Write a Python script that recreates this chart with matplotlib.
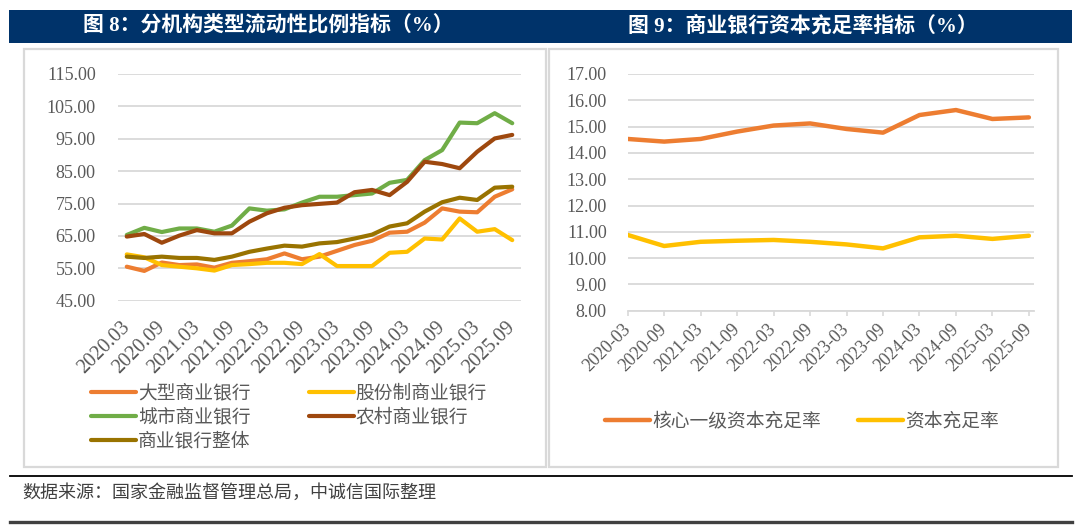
import matplotlib
matplotlib.use("Agg")
import matplotlib.pyplot as plt
import numpy as np
from matplotlib.patches import Rectangle
from matplotlib.lines import Line2D

plt.rcParams['font.family'] = ['Liberation Serif', 'Noto Sans CJK SC', 'DejaVu Sans']

W, H = 1080, 528

# ---- data: 图8 分机构类型流动性比例指标（%），季度 ----
quarters = ['2020.03', '2020.06', '2020.09', '2020.12',
            '2021.03', '2021.06', '2021.09', '2021.12',
            '2022.03', '2022.06', '2022.09', '2022.12',
            '2023.03', '2023.06', '2023.09', '2023.12',
            '2024.03', '2024.06', '2024.09', '2024.12',
            '2025.03', '2025.06', '2025.09']
large_banks = [55.5, 54.2, 56.8, 56.0, 56.2, 55.2, 56.7, 57.2, 57.8, 59.6, 57.8, 58.6,
               60.4, 62.2, 63.5, 66.0, 66.3, 69.1, 73.5, 72.5, 72.3, 77.1, 79.4]
joint_stock = [59.3, 58.4, 56.0, 55.5, 55.0, 54.3, 56.0, 56.3, 56.7, 56.7, 56.3, 59.4,
               55.7, 55.7, 55.7, 59.8, 60.1, 64.2, 63.9, 70.4, 66.3, 67.1, 63.7]
city_banks = [65.3, 67.5, 66.2, 67.3, 67.3, 66.3, 68.2, 73.5, 72.8, 73.2, 75.3, 77.1,
              77.1, 77.6, 78.1, 81.4, 82.3, 88.4, 91.5, 100.0, 99.8, 102.9, 99.8]
rural_banks = [64.8, 65.6, 62.9, 65.1, 66.8, 65.8, 65.8, 69.4, 72.0, 73.7, 74.5, 74.9,
               75.3, 78.5, 79.2, 77.6, 81.7, 87.9, 87.2, 85.9, 91.0, 95.1, 96.2]
all_banks = [58.6, 58.2, 58.6, 58.2, 58.2, 57.6, 58.6, 60.1, 61.1, 62.0, 61.7, 62.7,
             63.1, 64.2, 65.4, 67.9, 68.9, 72.5, 75.4, 76.8, 76.1, 79.9, 80.2]

# ---- data: 图9 商业银行资本充足率指标（%），半年 ----
halfyears = ['2020-03', '2020-09', '2021-03', '2021-09', '2022-03', '2022-09',
             '2023-03', '2023-09', '2024-03', '2024-09', '2025-03', '2025-09']
core_tier1 = [14.53, 14.43, 14.53, 14.81, 15.04, 15.12, 14.91, 14.77, 15.44, 15.63, 15.29, 15.35]
capital_adequacy = [10.88, 10.46, 10.62, 10.66, 10.69, 10.62, 10.52, 10.37, 10.79, 10.85, 10.73, 10.85]

ORANGE = '#ED7D31'
YELLOW = '#FFC000'
GREEN = '#70AD47'
BROWN = '#9E480E'
OLIVE = '#997300'
NAVY = '#00336A'
GRID = '#D9D9D9'
TXT = '#595959'


def px_axes(fig, x0, y0, x1, y1):
    return fig.add_axes([x0 / W, 1 - y1 / H, (x1 - x0) / W, (y1 - y0) / H])


fig = plt.figure(figsize=(W / 100, H / 100), dpi=100)

# header bar and panel frames
fig.patches.append(Rectangle((9 / W, 1 - 43 / H), (1072 - 9) / W, 33 / H,
                             transform=fig.transFigure, facecolor=NAVY, edgecolor='none'))
for x0, x1 in [(24, 546), (549, 1058)]:
    fig.patches.append(Rectangle((x0 / W, 1 - 467 / H), (x1 - x0) / W, (467 - 49) / H,
                                 transform=fig.transFigure, facecolor='none',
                                 edgecolor=GRID, lw=1.6))
fig.text(268 / W, 1 - 26.5 / H, '图 8：分机构类型流动性比例指标（%）', color='white',
         fontsize=15, fontweight='bold', ha='center', va='center')
fig.text(803 / W, 1 - 26.5 / H, '图 9：商业银行资本充足率指标（%）', color='white',
         fontsize=15, fontweight='bold', ha='center', va='center')

# footer
fig.lines.append(Line2D([10 / W, 1072 / W], [1 - 475.5 / H] * 2, transform=fig.transFigure,
                        color='black', lw=1.3))
fig.lines.append(Line2D([10 / W, 1072 / W], [1 - 522 / H] * 2, transform=fig.transFigure,
                        color='#404040', lw=2.4))
fig.text(22 / W, 1 - 493 / H, '数据来源：国家金融监督管理总局，中诚信国际整理',
         color='#404040', fontsize=13, ha='left', va='center')

# ---- left chart ----
ax1 = px_axes(fig, 118, 74, 521, 300.7)
x1 = np.arange(len(quarters))
series1 = [('大型商业银行', large_banks, ORANGE),
           ('股份制商业银行', joint_stock, YELLOW),
           ('城市商业银行', city_banks, GREEN),
           ('农村商业银行', rural_banks, BROWN),
           ('商业银行整体', all_banks, OLIVE)]
lines1 = {}
for name, vals, col in series1:
    l, = ax1.plot(x1, vals, color=col, lw=3.0, solid_capstyle='round',
                  solid_joinstyle='round', label=name)
    lines1[name] = l
ax1.set_xlim(-0.5, len(quarters) - 0.5)
ax1.set_ylim(45, 115)
ax1.set_yticks(np.arange(45, 116, 10))
ax1.set_yticklabels(['%.2f' % v for v in np.arange(45, 116, 10)])
ax1.set_xticks(x1[::2])
ax1.set_xticklabels(quarters[::2], rotation=45, ha='right', va='center',
                    rotation_mode='anchor')
ax1.yaxis.grid(True, color=GRID, lw=1.3)
ax1.set_axisbelow(True)
for s in ax1.spines.values():
    s.set_visible(False)
ax1.tick_params(axis='y', length=0, pad=16, labelsize=13, labelcolor=TXT)
ax1.tick_params(axis='x', length=0, pad=17, labelsize=14.5, labelcolor=TXT)

order = ['大型商业银行', '城市商业银行', '商业银行整体', '股份制商业银行', '农村商业银行']
leg1 = ax1.legend([lines1[n] for n in order], order, ncol=2, frameon=False,
                  loc='upper left', bbox_to_anchor=(91 / W, 1 - 385 / H),
                  bbox_transform=fig.transFigure, fontsize=13.5, handlelength=2.4,
                  handletextpad=0.1, columnspacing=3.1, labelspacing=0.32,
                  borderaxespad=0, borderpad=0)
for t in leg1.get_texts():
    t.set_color(TXT)

# ---- right chart ----
ax2 = px_axes(fig, 627.7, 74, 1034, 310.7)
x2 = np.arange(len(halfyears))
l_core, = ax2.plot(x2, core_tier1, color=ORANGE, lw=3.2, solid_capstyle='round',
                   solid_joinstyle='round')
l_cap, = ax2.plot(x2, capital_adequacy, color=YELLOW, lw=3.2, solid_capstyle='round',
                  solid_joinstyle='round')
ax2.set_xlim(0, len(halfyears) - 1 + 0.14)
ax2.set_ylim(8, 17)
ax2.set_yticks(np.arange(8, 18, 1))
ax2.set_yticklabels(['%.2f' % v for v in np.arange(8, 18, 1)])
ax2.set_xticks(x2)
ax2.set_xticklabels(halfyears, rotation=45, ha='right', va='center',
                    rotation_mode='anchor')
ax2.yaxis.grid(True, color=GRID, lw=1.3)
ax2.set_axisbelow(True)
for k, s in ax2.spines.items():
    s.set_visible(k == 'bottom')
ax2.spines['bottom'].set_color(GRID)
ax2.spines['bottom'].set_linewidth(1.3)
ax2.tick_params(axis='y', length=0, pad=15, labelsize=13, labelcolor=TXT)
ax2.tick_params(axis='x', length=3.5, width=1.2, color=GRID, pad=8, labelsize=13,
                labelcolor=TXT)

leg2 = ax2.legend([l_core, l_cap], ['核心一级资本充足率', '资本充足率'], ncol=2,
                  frameon=False, loc='center left',
                  bbox_to_anchor=(605 / W, 1 - 422 / H), bbox_transform=fig.transFigure,
                  fontsize=13.5, handlelength=2.4, handletextpad=0.1,
                  columnspacing=2.0, borderaxespad=0, borderpad=0)
for t in leg2.get_texts():
    t.set_color(TXT)

fig.savefig('out.png', dpi=100)
